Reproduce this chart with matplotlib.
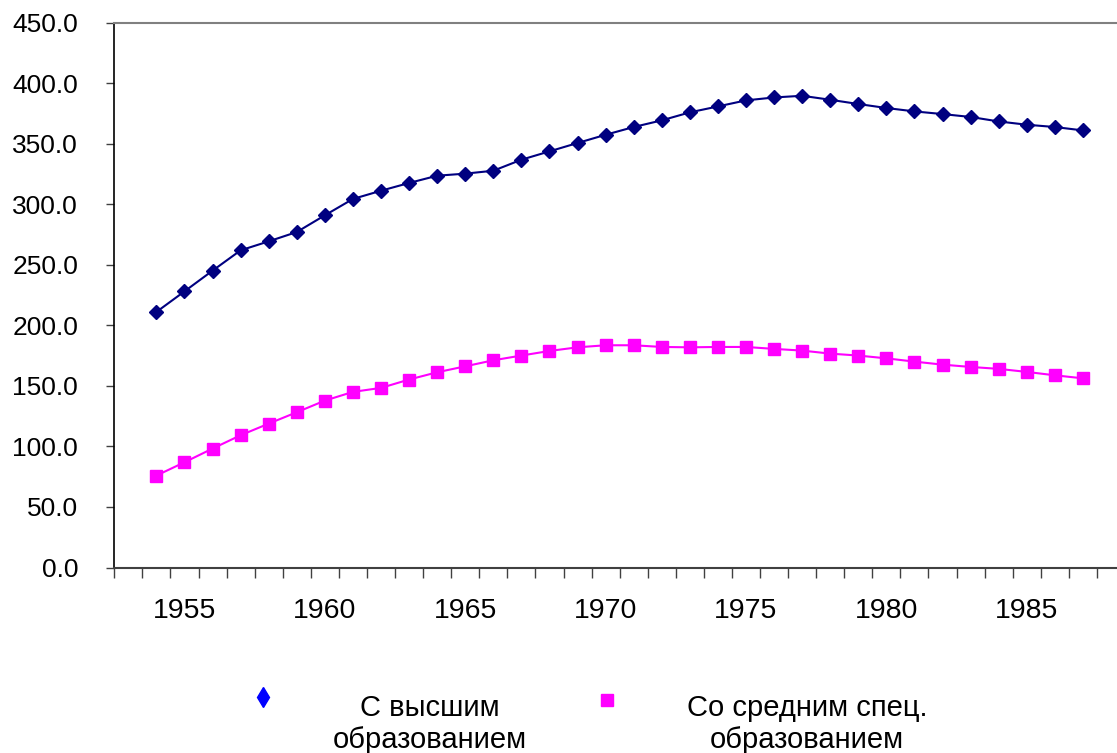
import numpy as np
import matplotlib
matplotlib.use('Agg')
import matplotlib.pyplot as plt
from matplotlib.lines import Line2D

plt.rcParams['font.family'] = ['Liberation Sans', 'DejaVu Sans']

#---------------------- data
years = list(range(1954, 1988))
higher = [211.0, 228.0, 245.1, 261.9, 269.3, 277.0, 290.8, 304.3, 311.1, 317.5,
          323.5, 325.2, 327.6, 336.7, 343.6, 350.5, 357.3, 363.7, 369.2, 375.8,
          380.7, 385.7, 388.1, 389.5, 386.2, 382.7, 379.4, 376.6, 374.4, 372.0,
          368.3, 365.6, 363.7, 360.9]
special = [75.9, 86.9, 98.2, 109.2, 118.8, 128.2, 137.8, 145.0, 148.3, 155.2,
           161.2, 166.1, 171.1, 175.0, 178.8, 181.8, 183.5, 183.5, 182.1, 181.8,
           182.1, 182.1, 180.5, 179.1, 176.6, 175.0, 172.7, 170.0, 167.5, 165.6,
           164.0, 161.5, 158.7, 156.2]
label_years = [1955, 1960, 1965, 1970, 1975, 1980, 1985]
y_ticks = [0, 50, 100, 150, 200, 250, 300, 350, 400, 450]
names = ['С высшим\nобразованием', 'Со средним спец.\nобразованием']

#---------------------- figure
W, H = 1117, 753
fig = plt.figure(figsize=(W / 100, H / 100), dpi=100)
ax = fig.add_axes([114.3 / W, 185.5 / H, (1125 - 114.3) / W, (567.5 - 22.5) / H])

ax.plot(years, higher, color='#000080', lw=1.5, marker='D', ms=7.5,
        markerfacecolor='#000080', markeredgecolor='#000080', clip_on=False)
ax.plot(years, special, color='#FF00FF', lw=1.5, marker='s', ms=8.5,
        markerfacecolor='#FF00FF', markeredgecolor='#FF00FF', clip_on=False)

ax.set_xlim(1952.5, 1952.5 + (1125 - 114.3) / 28.1)
ax.set_ylim(0, 450)

ax.set_yticks(y_ticks)
ax.set_yticklabels(['%.1f' % v for v in y_ticks])
ax.tick_params(axis='y', direction='out', length=6, width=1, color='#404040',
               labelsize=19, pad=20)

ax.set_xticks(label_years)
ax.set_xticklabels([str(y) for y in label_years])
ax.set_xticks(np.arange(1952.5, 1989, 1.0), minor=True)
ax.tick_params(axis='x', which='major', length=0, labelsize=20.5, pad=22)
ax.tick_params(axis='x', which='minor', direction='out', length=7, width=1,
               color='#404040')

ax.spines['left'].set_color('black')
ax.spines['left'].set_linewidth(1.2)
ax.spines['bottom'].set_color('#404040')
ax.spines['bottom'].set_linewidth(1.5)
ax.spines['top'].set_color('#808080')
ax.spines['top'].set_linewidth(1.5)
ax.spines['right'].set_visible(False)

#---------------------- legend
leg_marks = [('d', '#0000FF', 10, 263, 697), ('s', '#FF00FF', 8.5, 607, 700)]
leg_text_x = [430, 807]
for (m, c, s, mx, my), tx, name in zip(leg_marks, leg_text_x, names):
    fig.add_artist(Line2D([mx / W], [1 - my / H], transform=fig.transFigure,
                          marker=m, ms=s, color=c, lw=0))
    fig.text(tx / W, 1 - 694 / H, name, ha='center', va='top',
             multialignment='center', fontsize=21, linespacing=1.2)

fig.savefig('out.png', dpi=100)
